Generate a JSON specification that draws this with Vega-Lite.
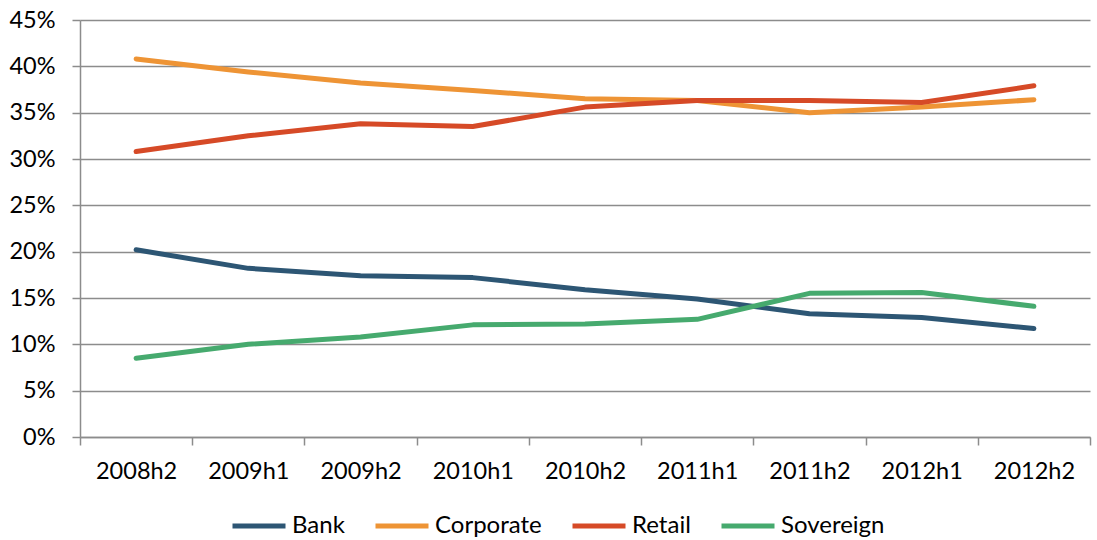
{
  "$schema": "https://vega.github.io/schema/vega-lite/v6.json",
  "autosize": "none",
  "width": 1010,
  "height": 417,
  "padding": {"left": 80, "top": 20, "right": 7, "bottom": 103},
  "background": "white",
  "config": {
    "font": "Lato",
    "view": {"stroke": null}
  },
  "data": {
    "values": [
      {"period": "2008h2", "series": "Bank", "value": 0.202},
      {"period": "2009h1", "series": "Bank", "value": 0.182},
      {"period": "2009h2", "series": "Bank", "value": 0.174},
      {"period": "2010h1", "series": "Bank", "value": 0.172},
      {"period": "2010h2", "series": "Bank", "value": 0.159},
      {"period": "2011h1", "series": "Bank", "value": 0.149},
      {"period": "2011h2", "series": "Bank", "value": 0.133},
      {"period": "2012h1", "series": "Bank", "value": 0.129},
      {"period": "2012h2", "series": "Bank", "value": 0.117},
      {"period": "2008h2", "series": "Corporate", "value": 0.408},
      {"period": "2009h1", "series": "Corporate", "value": 0.394},
      {"period": "2009h2", "series": "Corporate", "value": 0.382},
      {"period": "2010h1", "series": "Corporate", "value": 0.374},
      {"period": "2010h2", "series": "Corporate", "value": 0.365},
      {"period": "2011h1", "series": "Corporate", "value": 0.363},
      {"period": "2011h2", "series": "Corporate", "value": 0.350},
      {"period": "2012h1", "series": "Corporate", "value": 0.356},
      {"period": "2012h2", "series": "Corporate", "value": 0.364},
      {"period": "2008h2", "series": "Retail", "value": 0.308},
      {"period": "2009h1", "series": "Retail", "value": 0.325},
      {"period": "2009h2", "series": "Retail", "value": 0.338},
      {"period": "2010h1", "series": "Retail", "value": 0.335},
      {"period": "2010h2", "series": "Retail", "value": 0.356},
      {"period": "2011h1", "series": "Retail", "value": 0.363},
      {"period": "2011h2", "series": "Retail", "value": 0.363},
      {"period": "2012h1", "series": "Retail", "value": 0.361},
      {"period": "2012h2", "series": "Retail", "value": 0.379},
      {"period": "2008h2", "series": "Sovereign", "value": 0.085},
      {"period": "2009h1", "series": "Sovereign", "value": 0.100},
      {"period": "2009h2", "series": "Sovereign", "value": 0.108},
      {"period": "2010h1", "series": "Sovereign", "value": 0.121},
      {"period": "2010h2", "series": "Sovereign", "value": 0.122},
      {"period": "2011h1", "series": "Sovereign", "value": 0.127},
      {"period": "2011h2", "series": "Sovereign", "value": 0.155},
      {"period": "2012h1", "series": "Sovereign", "value": 0.156},
      {"period": "2012h2", "series": "Sovereign", "value": 0.141}
    ]
  },
  "mark": {"type": "line", "strokeWidth": 5, "strokeCap": "round", "strokeJoin": "round"},
  "encoding": {
    "x": {
      "field": "period",
      "type": "ordinal",
      "title": null,
      "scale": {"type": "band", "paddingInner": 0, "paddingOuter": 0},
      "axis": {
        "labelAngle": 0,
        "labelFontSize": 23.5,
        "labelColor": "#000000",
        "labelPadding": 14,
        "tickBand": "extent",
        "tickSize": 8,
        "tickColor": "#8c8c8c",
        "tickWidth": 1.5,
        "domainColor": "#8c8c8c",
        "domainWidth": 1.5,
        "grid": false
      }
    },
    "y": {
      "field": "value",
      "type": "quantitative",
      "title": null,
      "scale": {"domain": [0, 0.45], "nice": false},
      "axis": {
        "values": [0, 0.05, 0.1, 0.15, 0.2, 0.25, 0.3, 0.35, 0.4, 0.45],
        "format": ".0%",
        "labelFontSize": 23.5,
        "labelColor": "#000000",
        "labelPadding": 17,
        "tickSize": 8,
        "tickColor": "#8c8c8c",
        "tickWidth": 1.5,
        "domainColor": "#8c8c8c",
        "domainWidth": 1.5,
        "grid": true,
        "gridColor": "#8c8c8c",
        "gridWidth": 1.5
      }
    },
    "color": {
      "field": "series",
      "type": "nominal",
      "title": null,
      "scale": {
        "domain": ["Bank", "Corporate", "Retail", "Sovereign"],
        "range": ["#2d5674", "#ee9435", "#d64a27", "#46aa6e"]
      },
      "legend": {
        "orient": "none",
        "legendX": 150,
        "legendY": 477,
        "direction": "horizontal",
        "columns": 4,
        "symbolType": "stroke",
        "symbolSize": 2809,
        "symbolStrokeWidth": 5,
        "labelFontSize": 24,
        "labelColor": "#000000",
        "labelOffset": 4,
        "columnPadding": 20
      }
    }
  }
}
